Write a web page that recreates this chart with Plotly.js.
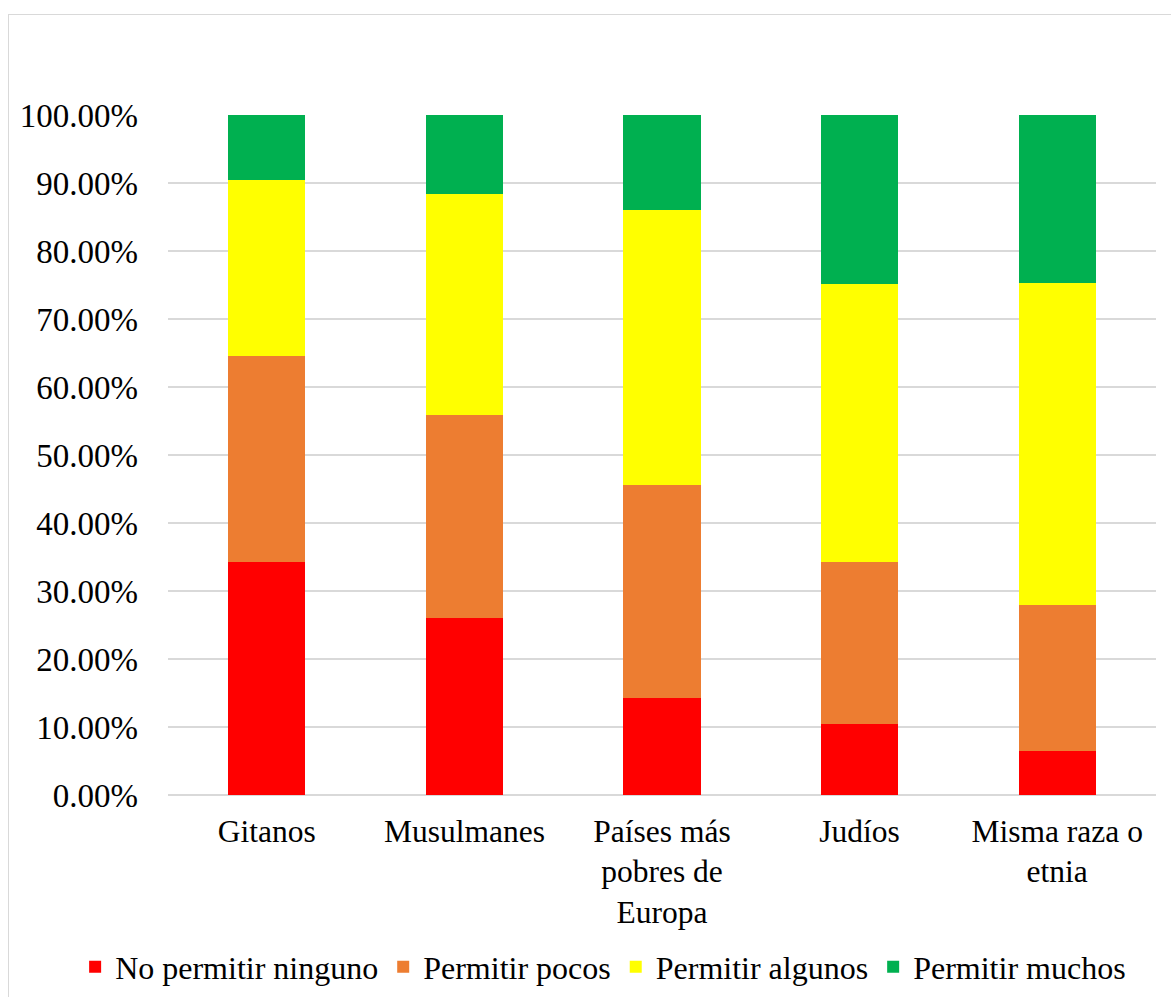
<!DOCTYPE html>
<html>
<head>
<meta charset="utf-8">
<script src="https://cdn.plot.ly/plotly-3.0.1.min.js"></script>
<style>
html, body { margin: 0; padding: 0; background: #ffffff; }
#chart { position: absolute; left: 0; top: 0; width: 1171px; height: 997px; }
#frame { position: absolute; left: 8px; top: 14px; width: 1180px; height: 1000px; border: 1px solid #d9d9d9; pointer-events: none; }
</style>
</head>
<body>
<div id="chart"></div>
<div id="frame"></div>
<script>
var categories = ["Gitanos", "Musulmanes", "Países más<br>pobres de<br>Europa", "Judíos", "Misma raza o<br>etnia"];
var seriesNames = ["No permitir ninguno", "Permitir pocos", "Permitir algunos", "Permitir muchos"];
var noPermitirNinguno = [0.343, 0.261, 0.143, 0.105, 0.064];
var permitirPocos     = [0.303, 0.2975, 0.313, 0.237, 0.216];
var permitirAlgunos   = [0.259, 0.3255, 0.404, 0.410, 0.4735];
var permitirMuchos    = [0.095, 0.116, 0.140, 0.248, 0.2465];
var colors = ["#FF0000", "#ED7D31", "#FFFF00", "#00B050"];

var values = [noPermitirNinguno, permitirPocos, permitirAlgunos, permitirMuchos];
var font = "Liberation Serif, Times New Roman, serif";

var traces = values.map(function (v, i) {
  return {
    type: "bar",
    name: seriesNames[i],
    x: categories,
    y: v,
    marker: { color: colors[i], line: { width: 0 } },
    hoverinfo: "x+y+name"
  };
});

var layout = {
  width: 1171,
  height: 997,
  barmode: "stack",
  bargap: 0.61,
  paper_bgcolor: "#ffffff",
  plot_bgcolor: "#ffffff",
  margin: { l: 168, r: 15, t: 115, b: 202, autoexpand: false },
  font: { family: font, size: 32, color: "#000000" },
  xaxis: {
    type: "category",
    showgrid: false,
    showline: false,
    ticks: "",
    tickfont: { family: font, size: 31.5, color: "#000000" },
    ticklabelstandoff: 14,
    automargin: false
  },
  yaxis: {
    range: [0, 1],
    dtick: 0.1,
    tick0: 0,
    tickformat: ".2%",
    showgrid: true,
    gridcolor: "#d9d9d9",
    gridwidth: 1.5,
    zeroline: true,
    zerolinecolor: "#d9d9d9",
    zerolinewidth: 1.5,
    showline: false,
    ticks: "",
    tickfont: { family: font, size: 33, color: "#000000" },
    ticklabelstandoff: 29,
    automargin: false,
    fixedrange: true
  },
  legend: {
    orientation: "h",
    x: -0.094,
    xanchor: "left",
    y: -0.253,
    yanchor: "middle",
    font: { family: font, size: 32, color: "#000000" },
    traceorder: "normal",
    itemwidth: 30,
    bgcolor: "rgba(0,0,0,0)"
  },
  showlegend: true
};

Plotly.newPlot("chart", traces, layout, { displayModeBar: false, staticPlot: true });
</script>
</body>
</html>
